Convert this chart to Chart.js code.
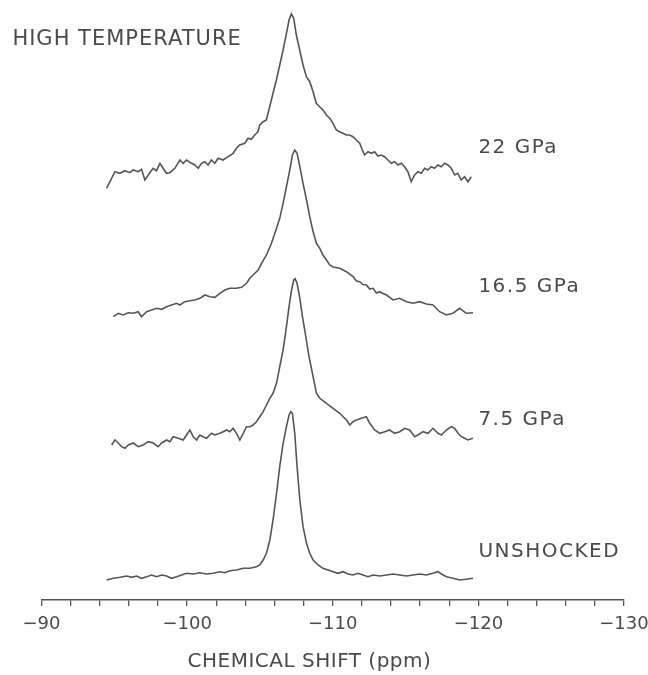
<!DOCTYPE html>
<html>
<head>
<meta charset="utf-8">
<script src="https://cdn.jsdelivr.net/npm/chart.js@4.4.1/dist/chart.umd.min.js"></script>
<style>
  html, body { margin: 0; padding: 0; background: #fff; }
  #wrap { width: 648px; height: 675px; position: relative; }
</style>
</head>
<body>
<div id="wrap"><canvas id="chart1"></canvas></div>
<script>
// Títulos e rótulos dos espectros
const figureLabel = "HIGH TEMPERATURE";
const spectrumLabels = ["22 GPa", "16.5 GPa", "7.5 GPa", "UNSHOCKED"];
const axisTitle = "CHEMICAL SHIFT (ppm)";
const labelledTicks = [-90, -100, -110, -120, -130];

// Deslocamento vertical de cada espectro (mesma unidade da intensidade)
const baselineOffsets = [420, 285, 157, 22];

// Espectros: [deslocamento químico (ppm), intensidade]
const trace22 = [
  [-94.47,-8.3],[-95.04,8.3],[-95.38,6.7],[-95.72,9.3],[-96.07,7.3],[-96.30,10],[-96.64,8.3],[-96.87,10.7],
  [-97.10,0],[-97.44,7.3],[-97.67,11.7],[-97.90,9.3],[-98.13,16.7],[-98.35,11.7],[-98.58,6.7],[-98.81,7.3],
  [-99.16,11.7],[-99.50,20],[-99.73,16.7],[-99.96,20],[-100.30,16.7],[-100.53,15],[-100.76,11.7],[-100.98,16.7],
  [-101.21,18.3],[-101.44,15],[-101.67,20],[-101.90,16.7],[-102.13,21.7],[-102.47,20],[-102.81,23.3],[-103.16,26.7],
  [-103.39,31.7],[-103.61,35],[-103.96,36.7],[-104.19,41.7],[-104.41,40.7],[-104.64,45],[-104.87,48.3],[-104.99,55],
  [-105.22,58.3],[-105.44,60],[-105.67,73.3],[-105.90,86.7],[-106.13,100],[-106.36,115],[-106.59,130],[-106.82,146.7],
  [-107.00,160],[-107.16,166],[-107.32,161.7],[-107.50,145],[-107.73,130],[-107.96,115],[-108.19,103.3],[-108.42,98.3],
  [-108.65,88.3],[-108.87,76.7],[-109.10,73.3],[-109.33,70],[-109.56,65],[-109.79,61.7],[-110.02,56.7],[-110.25,50],
  [-110.47,48.3],[-110.70,46.7],[-110.93,45],[-111.16,45],[-111.39,43.3],[-111.62,40],[-111.85,36.7],[-112.08,28.3],
  [-112.19,25],[-112.42,28.3],[-112.65,26.7],[-112.88,28.3],[-113.10,24],[-113.33,25],[-113.56,23.3],[-113.79,20],
  [-114.02,16.7],[-114.25,18.3],[-114.48,15],[-114.71,16.7],[-114.93,13.3],[-115.16,8.3],[-115.39,-1.7],[-115.62,5],
  [-115.85,8.3],[-116.08,6.7],[-116.31,11.7],[-116.53,10],[-116.76,13.3],[-116.99,11.7],[-117.22,15],[-117.45,13.3],
  [-117.68,16.7],[-117.91,15],[-118.14,11.7],[-118.37,5],[-118.59,6.7],[-118.82,0],[-119.05,3.3],[-119.28,-1.7],
  [-119.51,3.3]
];

const trace165 = [
  [-94.93,-1.7],[-95.27,1.7],[-95.61,0],[-95.96,2.3],[-96.30,1.7],[-96.64,3.3],[-96.87,-1.7],[-97.22,3.3],
  [-97.56,5],[-97.90,6.7],[-98.25,5.7],[-98.59,8.3],[-98.93,10],[-99.28,11.7],[-99.50,10],[-99.85,13.3],
  [-100.19,14.3],[-100.53,15],[-100.88,16.7],[-101.22,20],[-101.56,18.3],[-101.90,17.7],[-102.25,21.7],[-102.59,25],
  [-102.93,26.7],[-103.39,26.7],[-103.74,27.7],[-104.08,31.7],[-104.31,36.7],[-104.53,40],[-104.88,45],[-105.11,51.7],
  [-105.45,60],[-105.79,71.7],[-106.14,86.7],[-106.36,96.7],[-106.59,111.7],[-106.82,128.3],[-107.05,145],[-107.23,160],
  [-107.39,165],[-107.55,161.7],[-107.74,148.3],[-107.96,131.7],[-108.20,115],[-108.42,98.3],[-108.65,83.3],[-108.88,71.7],
  [-109.11,66.7],[-109.33,60],[-109.57,55],[-109.79,50],[-110.02,48],[-110.48,46.7],[-110.94,43.3],[-111.39,38.3],
  [-111.63,34],[-111.85,33.3],[-112.08,30.5],[-112.31,30],[-112.54,26],[-112.77,26.7],[-113.00,22],[-113.23,23.3],
  [-113.45,21.5],[-113.69,20],[-114.14,15],[-114.60,16.7],[-115.06,13.3],[-115.51,11.7],[-115.97,13.3],[-116.43,11],
  [-116.88,10],[-117.34,3.3],[-117.80,0],[-118.25,1.7],[-118.71,6.7],[-119.17,1.7],[-119.63,2.3]
];

const trace75 = [
  [-94.82,-2],[-95.04,3],[-95.27,0],[-95.50,-3.7],[-95.73,-5.3],[-95.96,-2],[-96.30,0],[-96.64,-3.7],
  [-96.98,-2],[-97.33,1.3],[-97.67,0],[-98.01,-3.7],[-98.25,0],[-98.59,3],[-98.82,1.3],[-99.04,6.3],
  [-99.39,4.7],[-99.73,3],[-99.96,8],[-100.19,13],[-100.42,6.3],[-100.65,3],[-100.87,8],[-101.10,6.3],
  [-101.33,4.7],[-101.68,9.7],[-101.90,8],[-102.25,9.7],[-102.47,11.3],[-102.71,13],[-102.93,11.3],[-103.16,14.7],
  [-103.39,9.7],[-103.62,3],[-103.85,9.7],[-104.08,16.3],[-104.31,16.3],[-104.53,18],[-104.76,21.3],[-104.99,26.3],
  [-105.22,31.3],[-105.45,38],[-105.68,44.7],[-105.90,49.7],[-106.14,59.7],[-106.36,76.3],[-106.59,93],[-106.82,116.3],
  [-107.00,136.3],[-107.17,153],[-107.32,163],[-107.41,164.3],[-107.55,159.7],[-107.74,144.7],[-107.92,126.3],[-108.15,106.3],
  [-108.37,86.3],[-108.65,66.3],[-108.88,49.7],[-109.11,44.7],[-109.57,39.7],[-110.02,34.7],[-110.48,29.7],[-110.94,23],
  [-111.17,18],[-111.39,21.3],[-111.63,23],[-111.97,24.7],[-112.31,26.3],[-112.54,19.7],[-112.88,13],[-113.23,9.7],
  [-113.57,11.3],[-113.91,13],[-114.25,9.7],[-114.60,11.3],[-114.94,14.7],[-115.28,13],[-115.63,6.3],[-115.85,8],
  [-116.20,11.3],[-116.54,9.7],[-116.88,14.7],[-117.23,9.7],[-117.46,8],[-117.80,13],[-118.14,16.3],[-118.37,14.7],
  [-118.60,9.7],[-118.83,6.3],[-119.06,4.7],[-119.28,3],[-119.63,4.7]
];

const traceUnshocked = [
  [-94.47,-2],[-94.93,-0.3],[-95.39,0.7],[-95.85,2],[-96.19,0.7],[-96.53,2],[-96.87,-0.3],[-97.22,1.3],
  [-97.56,3],[-97.90,1.3],[-98.25,3],[-98.59,2],[-98.93,-0.3],[-99.28,1.3],[-99.62,3],[-99.96,4.7],
  [-100.42,4],[-100.87,5.3],[-101.33,4],[-101.79,4.7],[-102.25,6.3],[-102.59,5.3],[-102.93,7.3],[-103.39,8],
  [-103.85,9.7],[-104.31,9.7],[-104.76,11.3],[-104.99,13],[-105.22,18],[-105.45,24.7],[-105.68,38],[-105.90,58],
  [-106.14,84.7],[-106.36,111.3],[-106.59,134.7],[-106.82,151.3],[-107.00,163],[-107.12,166.3],[-107.23,164.7],[-107.39,144.7],
  [-107.55,111.3],[-107.74,78],[-107.96,51.3],[-108.20,34.7],[-108.42,24.7],[-108.65,18],[-108.99,13],[-109.33,9.7],
  [-109.68,8],[-110.02,6.3],[-110.36,4.7],[-110.71,6.3],[-111.05,4],[-111.39,3],[-111.74,4.7],[-112.08,3],
  [-112.42,1.3],[-112.77,3],[-113.23,2],[-113.69,3],[-114.14,4],[-114.60,3],[-115.06,2],[-115.51,3],
  [-115.97,4],[-116.43,3],[-116.88,4.7],[-117.23,6.3],[-117.46,4],[-117.80,1.3],[-118.25,-0.3],[-118.71,-2],
  [-119.17,-1.3],[-119.63,-0.3]
];

const traces = [trace22, trace165, trace75, traceUnshocked];

document.addEventListener("DOMContentLoaded", () => {
    const ctx = document.getElementById("chart1").getContext("2d");
    const inkColor = "#555555";
    const textColor = "#4a4a4a";

    // Rótulos de texto desenhados sobre o gráfico
    const textLabels = {
        id: "textLabels",
        afterDraw(chart) {
            const { ctx, chartArea, scales: { x, y } } = chart;
            ctx.save();
            ctx.fillStyle = textColor;
            ctx.textBaseline = "middle";
            ctx.textAlign = "left";

            ctx.font = '21px "DejaVu Sans"';
            ctx.letterSpacing = "1px";
            ctx.fillText(figureLabel, x.getPixelForValue(-88.0), y.getPixelForValue(560));

            const labelHeights = [452, 313, 180, 48];
            ctx.font = '20px "DejaVu Sans"';
            ctx.letterSpacing = "1.5px";
            spectrumLabels.forEach((txt, i) => {
                ctx.fillText(txt, x.getPixelForValue(-120.0), y.getPixelForValue(labelHeights[i]));
            });

            ctx.font = '20px "DejaVu Sans"';
            ctx.letterSpacing = "0.5px";
            ctx.textAlign = "center";
            ctx.fillText(axisTitle, x.getPixelForValue(-108.4), chartArea.bottom + 62);
            ctx.restore();
        }
    };

    const datasets = traces.map((trace, i) => ({
        label: spectrumLabels[i],
        data: trace.map(p => ({ x: p[0], y: p[1] + baselineOffsets[i] })),
        borderColor: inkColor,
        borderWidth: 1.6,
        pointRadius: 0,
        fill: false,
        tension: 0
    }));

    new Chart(ctx, {
        type: "line",
        data: { datasets },
        plugins: [textLabels],
        options: {
            responsive: true,
            maintainAspectRatio: false,
            animation: false,
            layout: { padding: { left: 41.5, right: 24, top: 0, bottom: 0 } },
            plugins: {
                legend: { display: false },
                tooltip: { enabled: false }
            },
            scales: {
                x: {
                    type: "linear",
                    reverse: true,
                    min: -130,
                    max: -90,
                    afterFit: (scale) => {
                        scale.height = 75;
                        scale.paddingLeft = 0;
                        scale.paddingRight = 0;
                    },
                    border: { display: true, color: inkColor, width: 1.5 },
                    grid: {
                        display: true,
                        drawOnChartArea: false,
                        drawTicks: true,
                        tickLength: 6,
                        color: inkColor,
                        lineWidth: 1.3
                    },
                    ticks: {
                        stepSize: 2,
                        autoSkip: false,
                        maxRotation: 0,
                        padding: 8,
                        color: textColor,
                        font: { family: "DejaVu Sans", size: 18 },
                        callback: (v) => labelledTicks.includes(v) ? "\u2212" + Math.abs(v) : ""
                    }
                },
                y: {
                    display: false,
                    min: 0,
                    max: 600
                }
            }
        }
    });
});
</script>
</body>
</html>
